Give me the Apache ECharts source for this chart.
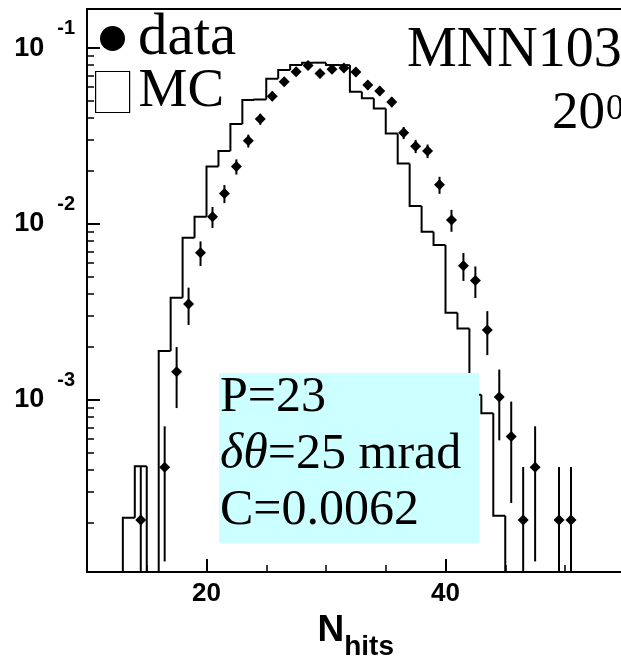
<!DOCTYPE html>
<html><head><meta charset="utf-8">
<script src="https://cdn.jsdelivr.net/npm/echarts@6/dist/echarts.min.js"></script>
<style>html,body{margin:0;padding:0;background:#fff}#c{width:621px;height:664px}</style>
</head><body><div id="c"></div>
<script>
// ---- MC histogram (bin edges and contents) ----
const mcBinEdges = [13,14,15,16,17,18,19,20,21,22,23,24,25,26,27,28,29,30,31,32,33,34,35,36,37,38,39,40,41,42,43,44,45,46];
const mcValues = [2.14e-4,4.2e-4,0,1.9e-3,3.81e-3,8.35e-3,1.10e-2,0.0212,0.026,0.037,0.0507,0.051,0.067,0.075,0.080,0.0826,0.0826,0.080,0.080,0.0565,0.0518,0.0454,0.0327,0.0221,0.01265,9.03e-3,7.6e-3,3.13e-3,2.55e-3,1.07e-3,8.4e-4,2.2e-4,0];
// ---- data points ----
const dataX = [14.5,16.5,17.5,18.5,19.5,20.5,21.5,22.5,23.5,24.5,25.5,26.5,27.5,28.5,29.5,30.5,31.5,32.5,33.5,34.5,35.5,36.5,37.5,38.5,39.5,40.5,41.5,42.5,43.5,44.5,45.5,46.5,47.5,49.5,50.5];
const dataY = [2.08e-4,4.15e-4,1.45e-3,3.51e-3,6.87e-3,0.0110,0.0149,0.0212,0.0297,0.0395,0.0533,0.0644,0.0733,0.0797,0.0718,0.0758,0.077,0.073,0.0616,0.0571,0.0493,0.033,0.0277,0.026,0.0167,0.01054,5.8e-3,4.77e-3,2.5e-3,1.04e-3,6.2e-4,2.08e-4,4.15e-4,2.08e-4,2.08e-4];
const dataErr = [2.08e-4,2.94e-4,5.5e-4,8.4e-4,1.1e-3,1.5e-3,1.75e-3,2.1e-3,2.5e-3,2.85e-3,3.3e-3,3.65e-3,3.9e-3,4.1e-3,3.9e-3,4.0e-3,4.0e-3,3.9e-3,3.6e-3,3.45e-3,3.2e-3,2.6e-3,2.4e-3,2.3e-3,1.85e-3,1.5e-3,1.05e-3,9.7e-4,7.0e-4,4.5e-4,3.6e-4,2.08e-4,2.94e-4,2.08e-4,2.08e-4];
// ---- ticks ----
const xMajorTicks = [20, 40];
const xMinorTicks = [15, 25, 30, 35, 45, 50, 55];
const yMajorTicks = [1e-3, 1e-2, 1e-1];
const yMinorTicks = [2e-4,3e-4,4e-4,5e-4,6e-4,7e-4,8e-4,9e-4,2e-3,3e-3,4e-3,5e-3,6e-3,7e-3,8e-3,9e-3,2e-2,3e-2,4e-2,5e-2,6e-2,7e-2,8e-2,9e-2];

const X_MIN = 10, X_MAX = 60, Y_MIN = 1.054e-4, Y_MAX = 0.1667;
const clampY = v => Math.max(v, Y_MIN);
const SANS = 'Liberation Sans', SERIF = 'Liberation Serif';

const chart = echarts.init(document.getElementById('c'));
const histData = mcValues.map((v, i) => [mcBinEdges[i], mcBinEdges[i + 1], v]);
const errData = dataX.map((x, i) => [x, dataY[i], dataErr[i]]);
const ptData = dataX.map((x, i) => [x, dataY[i]]);

const tickStyle = {color: '#000', width: 2};
const minorStyle = {color: '#000', width: 1.5};

chart.setOption({
  animation: false,
  backgroundColor: '#fff',
  grid: {left: 87, top: 9, width: 597.5, height: 563, show: true, borderColor: '#000', borderWidth: 2,
         containLabel: false, outerBoundsMode: 'none'},
  legend: [
    {data: [{name: 'data', icon: 'circle', itemStyle: {color: '#000', opacity: 1}}], left: 100, top: 9, padding: 0,
     itemWidth: 25, itemHeight: 25, selectedMode: false,
     textStyle: {fontFamily: SERIF, fontSize: 59, color: '#000', padding: [0, 0, 0, 8]}},
    {data: [{name: 'MC', icon: 'rect', itemStyle: {color: '#fff', borderColor: '#000', borderWidth: 1.2, opacity: 1}}], left: 95, top: 64.5, padding: 0,
     itemWidth: 34, itemHeight: 41, selectedMode: false,
     textStyle: {fontFamily: SERIF, fontSize: 55, color: '#000', padding: [0, 0, 0, 4]}}
  ],
  xAxis: [
    {type: 'value', min: X_MIN, max: X_MAX, position: 'bottom',
     axisLine: {show: true, lineStyle: {color: '#000', width: 2}},
     axisTick: {show: true, inside: true, length: 13, customValues: xMajorTicks, lineStyle: tickStyle},
     axisLabel: {customValues: xMajorTicks, fontFamily: SANS, fontWeight: 'bold', fontSize: 26, color: '#000', margin: 9},
     splitLine: {show: false},
     name: '{n|N}{s|hits}', nameLocation: 'middle', nameGap: 29, nameMoveOverlap: false,
     nameTextStyle: {rich: {
       n: {fontFamily: SANS, fontWeight: 'bold', fontSize: 37, color: '#000'},
       s: {fontFamily: SANS, fontWeight: 'bold', fontSize: 28, color: '#000', padding: [32, 60, 0, 0]}
     }}},
    {type: 'value', min: X_MIN, max: X_MAX, position: 'bottom',
     axisLine: {show: false},
     axisTick: {show: true, inside: true, length: 7, customValues: xMinorTicks, lineStyle: minorStyle},
     axisLabel: {show: false}, splitLine: {show: false}}
  ],
  yAxis: [
    {type: 'log', logBase: 10, min: Y_MIN, max: Y_MAX, position: 'left',
     axisLine: {show: true, lineStyle: {color: '#000', width: 2}},
     axisTick: {show: true, inside: true, length: 13, customValues: yMajorTicks, lineStyle: tickStyle},
     axisLabel: {customValues: yMajorTicks, margin: 12,
       formatter: v => '{b|10}{s|' + Math.round(Math.log10(v)) + '}',
       rich: {
         b: {fontFamily: SANS, fontWeight: 'bold', fontSize: 27, color: '#000'},
         s: {fontFamily: SANS, fontWeight: 'bold', fontSize: 20, color: '#000', padding: [0, 0, 40, 13]}
       }},
     splitLine: {show: false}},
    {type: 'log', logBase: 10, min: Y_MIN, max: Y_MAX, position: 'left',
     axisLine: {show: false},
     axisTick: {show: true, inside: true, length: 7, customValues: yMinorTicks, lineStyle: minorStyle},
     axisLabel: {show: false}, splitLine: {show: false}}
  ],
  series: [
    {name: 'MC', type: 'custom', xAxisIndex: 0, yAxisIndex: 0, encode: {x: [0, 1], y: 2}, data: histData, z: 2,
     renderItem: (params, api) => {
       const i = params.dataIndex;
       const lo = api.value(0), hi = api.value(1), v = api.value(2);
       const prev = i > 0 ? mcValues[i - 1] : 0;
       const pts = [api.coord([lo, clampY(prev)]), api.coord([lo, clampY(v)]), api.coord([hi, clampY(v)])];
       if (i === mcValues.length - 1) pts.push(api.coord([hi, Y_MIN]));
       return {type: 'polyline', shape: {points: pts}, style: {stroke: '#000', lineWidth: 2, fill: 'none', lineJoin: 'miter'}};
     }},
    {name: 'dataErr', type: 'custom', xAxisIndex: 0, yAxisIndex: 0, encode: {x: 0, y: 1}, data: errData, z: 3,
     renderItem: (params, api) => {
       const x = api.value(0), v = api.value(1), e = api.value(2);
       const p1 = api.coord([x, clampY(v - e)]), p2 = api.coord([x, v + e]);
       return {type: 'line', shape: {x1: p1[0], y1: p1[1], x2: p2[0], y2: p2[1]}, style: {stroke: '#000', lineWidth: 2}};
     }},
    {name: 'data', type: 'scatter', xAxisIndex: 0, yAxisIndex: 0, data: ptData, symbol: 'diamond', symbolSize: 11,
     itemStyle: {color: '#000', opacity: 1}, z: 4}
  ],
  graphic: [
    {type: 'rect', shape: {x: 219, y: 373, width: 260, height: 170}, style: {fill: '#ccffff'}, z: 10},
    {type: 'text', x: 220, y: 398, z: 11, style: {text: 'P=23', fontFamily: SERIF, fontSize: 50, fill: '#000', verticalAlign: 'middle'}},
    {type: 'text', x: 220, y: 455, z: 11, style: {text: '{i|δθ}=25 mrad', fontFamily: SERIF, fontSize: 50, fill: '#000', verticalAlign: 'middle',
      rich: {i: {fontFamily: SERIF, fontSize: 50, fontStyle: 'italic', fill: '#000'}}}},
    {type: 'text', x: 220, y: 511, z: 11, style: {text: 'C=0.0062', fontFamily: SERIF, fontSize: 50, fill: '#000', verticalAlign: 'middle'}},
    {type: 'text', x: 407, y: 51, z: 11, style: {text: 'MNN103', fontFamily: SERIF, fontSize: 56, fill: '#000', verticalAlign: 'middle'}},
    {type: 'text', x: 552, y: 114.5, z: 11, style: {text: '20', fontFamily: SERIF, fontSize: 53, fill: '#000', verticalAlign: 'middle'}},
    {type: 'text', x: 606, y: 110, z: 11, style: {text: '0', fontFamily: SERIF, fontSize: 36, fill: '#000', verticalAlign: 'middle'}}
  ]
});
</script>
</body></html>
